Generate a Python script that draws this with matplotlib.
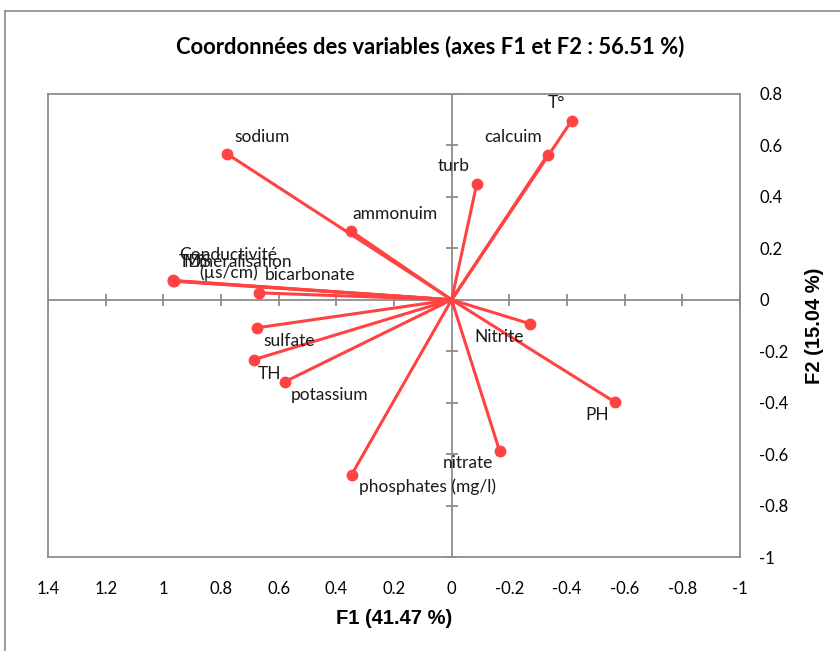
import matplotlib
matplotlib.use("Agg")
import matplotlib.pyplot as plt
from matplotlib.lines import Line2D

# variable coordinates on F1 / F2
variables = ["T°", "calcuim", "turb", "sodium", "ammonuim",
             "Conductivité\n(µs/cm)", "Minéralisation", "TDS", "bicarbonate",
             "sulfate", "TH", "potassium", "phosphates (mg/l)", "nitrate",
             "Nitrite", "PH"]
f1 = [-0.416, -0.333, -0.087, 0.780, 0.350,
      0.965, 0.963, 0.966, 0.669,
      0.676, 0.687, 0.579, 0.347, -0.166,
      -0.271, -0.565]
f2 = [0.696, 0.564, 0.451, 0.568, 0.268,
      0.074, 0.072, 0.075, 0.027,
      -0.109, -0.233, -0.319, -0.680, -0.587,
      -0.093, -0.397]

# label offsets in pixels (dx right, dy down)
offsets = [(-15, -18), (-35, -18), (-23, -18), (35, -17), (44, -17),
           (55, -17), (64, -19), (22, -18), (51, -18),
           (32, 13), (16, 14), (45, 13), (76, 12), (-32, 12),
           (-31, 13), (-17, 13)]

xticks = [1.4, 1.2, 1, 0.8, 0.6, 0.4, 0.2, 0, -0.2, -0.4, -0.6, -0.8, -1]
yticks = [0.8, 0.6, 0.4, 0.2, 0, -0.2, -0.4, -0.6, -0.8, -1]

red = "#ff4343"
gray = "#8c8c8c"
font = "Lato"

fig = plt.figure(figsize=(8.4, 6.51), dpi=100)
ax = fig.add_axes([48 / 840, 1 - 557 / 651, 692 / 840, 463 / 651])

# outer chart frame (left and top visible)
fig.add_artist(Line2D([5 / 840, 5 / 840], [0, 1 - 11 / 651], transform=fig.transFigure, color=gray, lw=1.2))
fig.add_artist(Line2D([5 / 840, 1], [1 - 11 / 651, 1 - 11 / 651], transform=fig.transFigure, color=gray, lw=1.2))

ax.set_xlim(1.4, -1)
ax.set_ylim(-1, 0.8)

# axes through origin with crossing ticks
ax.axhline(0, color=gray, lw=1.3, zorder=1)
ax.axvline(0, color=gray, lw=1.3, zorder=1)
ax.plot(xticks, [0] * len(xticks), ls="none", marker="|", ms=9, mew=1.3, color=gray, zorder=1)
ax.plot([0] * len(yticks), yticks, ls="none", marker="_", ms=9, mew=1.3, color=gray, zorder=1)

for name, x, y, (dx, dy) in zip(variables, f1, f2, offsets):
    ax.plot([0, x], [0, y], color=red, lw=2.2, zorder=2)
    ax.plot(x, y, "o", color=red, ms=7.5, zorder=3)
    ax.annotate(name, (x, y), xytext=(dx * 0.72, -dy * 0.72), textcoords="offset points",
                ha="center", va="center", fontsize=12.5, family=font, color="#1a1a1a",
                linespacing=1.1)

for s in ax.spines.values():
    s.set_color(gray)
    s.set_linewidth(1.3)

ax.set_xticks(xticks)
ax.set_xticklabels([f"{t:g}" for t in xticks], family=font, fontsize=12)
ax.yaxis.tick_right()
ax.set_yticks(yticks)
ax.set_yticklabels([f"{t:g}" for t in yticks], family=font, fontsize=12, ha="left")
ax.tick_params(axis="x", length=0, pad=17)
ax.tick_params(axis="y", length=0, pad=14)

ax.set_xlabel("F1 (41.47 %)", family="Liberation Sans", fontweight="bold", fontsize=14.5, labelpad=9)
ax.yaxis.set_label_position("right")
ax.set_ylabel("F2 (15.04 %)", family="Liberation Sans", fontweight="bold", fontsize=14.5,
              rotation=90, labelpad=12)

fig.text(430 / 840, 1 - 47 / 651, "Coordonnées des variables (axes F1 et F2 : 56.51 %)",
         ha="center", va="center", family=font, fontweight="bold", fontsize=15.8)

fig.savefig("out.png", dpi=100)
